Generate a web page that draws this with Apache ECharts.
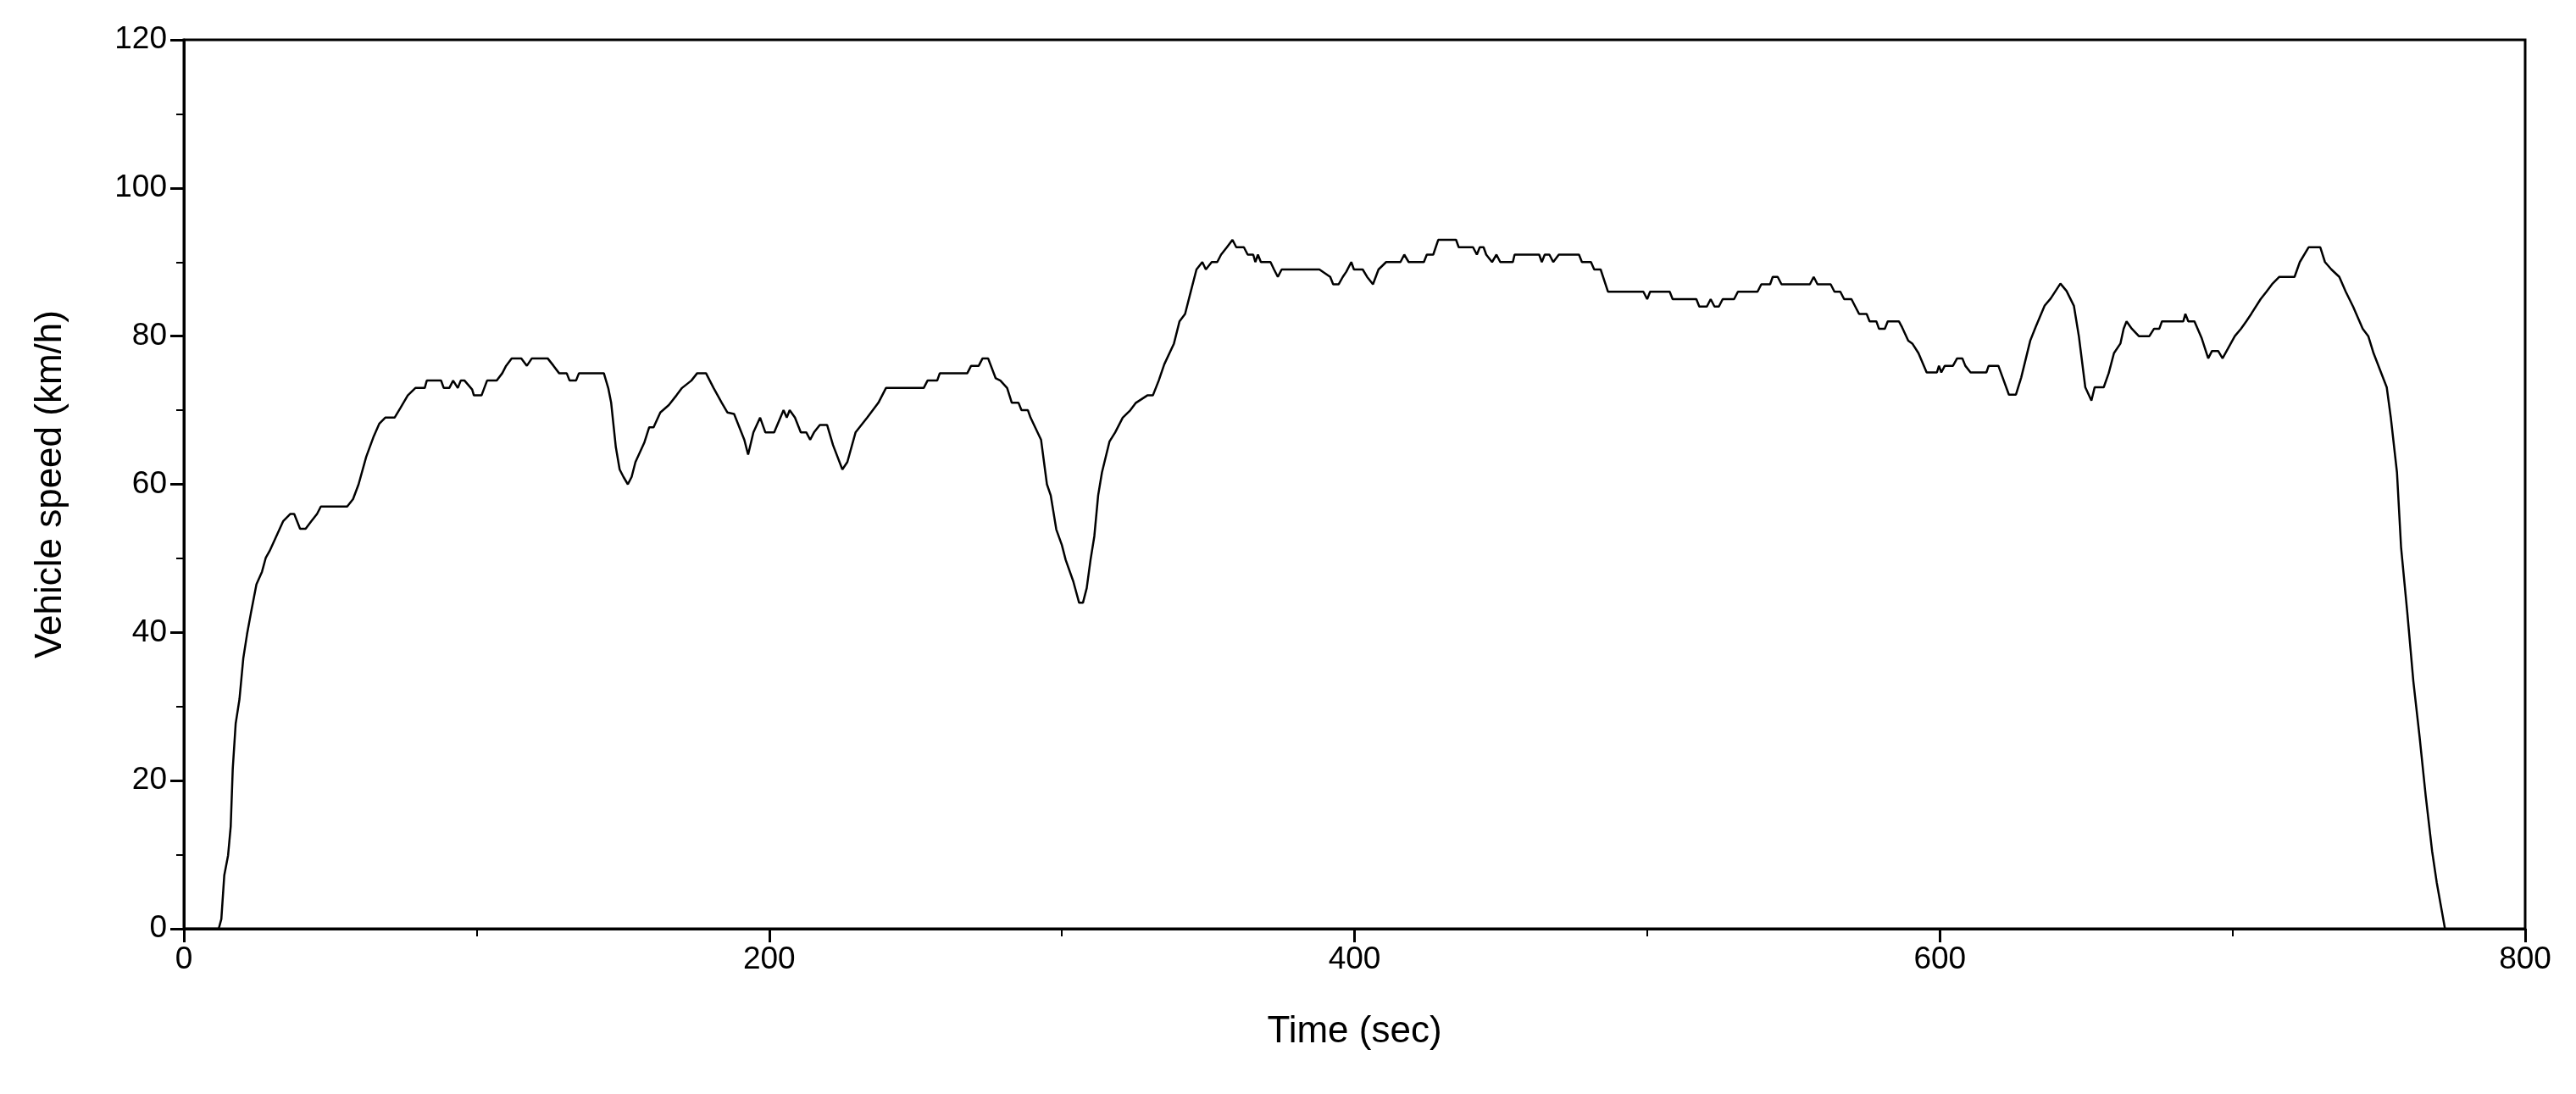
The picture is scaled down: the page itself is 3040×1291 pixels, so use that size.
<!DOCTYPE html>
<html><head><meta charset="utf-8">
<script src="https://cdn.jsdelivr.net/npm/echarts@6/dist/echarts.min.js"></script>
<style>html,body{margin:0;padding:0;background:#fff}#c{width:3040px;height:1291px}</style>
</head><body><div id="c"></div>
<script>
const timeSec = [0,11.9,12.8,13.8,15.1,16.0,16.7,17.7,19.0,20.3,21.6,22.9,24.8,26.7,28.0,29.3,33.9,36.4,37.7,39.7,41.6,43.5,45.5,46.8,55.8,57.8,59.7,62.3,64.9,66.8,68.8,72,74,76.5,79.1,82.3,83,87.9,88.8,90.7,92,93.6,94.6,95.9,98.5,99.1,101.7,103.6,106.9,108.8,110.1,112,115.3,117.2,118.9,124.3,126.3,128.2,130.8,131.8,134,135,143.5,145,146,147.6,148.9,150.2,151.7,153,154.3,157.3,159,160.5,162.8,165.7,168.3,170.2,173.4,175.4,178.4,181,183.8,185.7,188,191.5,192.8,194.6,196.9,198.7,201.7,204.9,206,207,208.8,210.8,212.7,214,215.3,217.3,219.8,221.8,225,226.7,229.5,231.5,233.5,235.4,237.3,239.9,252.8,254.1,257.4,258.3,267.7,269,271.6,272.9,274.8,277.4,279,281.3,282.9,285.2,286.2,288.4,289.3,292.9,294.9,296.2,298.1,300,301.3,303.9,305.9,307.2,308.5,309.8,311.1,312.4,313.7,316.3,318.2,320.8,323.4,325.3,329.2,331.1,333.1,335,338.3,340.2,342.1,344.1,346,348,349.2,351.2,353.1,354.4,356.4,358.3,359.6,362.2,363.5,365.4,366.1,367,368,371.3,372.5,373.8,375.1,388,391.7,392.7,394.6,396,397.2,398.9,399.8,402.8,404.3,406.3,408.2,410.8,415.7,417,418.5,423.7,424.7,426.9,428.6,434.7,435.6,440.5,441.8,442.8,444.1,445,447,448.5,449.8,454.1,454.7,463.1,464,465,466.6,467.9,469.8,476.7,477.7,480.8,481.9,484.1,486.6,498.7,500,501,507.7,508.7,516.8,517.8,520.4,521.7,523,524.5,525.8,529.7,531,537.7,539,542,542.9,544.6,545.9,555.6,556.9,558.2,562.7,564,566,567.3,569.8,571.1,572.4,575,576,578.3,579.2,581.2,582.2,586,587.1,589.2,590.6,592.7,595.5,599,599.7,600.5,601.7,604.5,605.9,607.7,608.7,610.5,615.9,616.7,620,623.6,626,627.8,630.9,632.7,635.8,637.9,641.2,643.3,645.8,647.5,649.7,651.8,652.9,656,657.7,659.5,661.7,662.8,663.8,665.6,668,671.6,673.2,675,675.9,683.2,683.9,684.9,687,689.5,691.7,693,695.1,696.6,698,700.8,702.9,704.7,706.4,709.6,711.6,713.5,716,721.2,723,726,730,731.6,733.8,736.5,738.7,741.2,744.5,746.4,748.2,752.7,754.1,756.2,757.6,759.7,761.8,763.9,766,768.2,769.8,772.6];
const speedKmh = [0,0,1.3,7.2,9.9,13.8,21.6,27.7,31,36.5,39.8,42.6,46.5,48.2,50.1,51,55,56,56,54,54,55,56,57,57,58,60,63.7,66.5,68.2,69,69,70.3,72,73,73,74,74,73,73,74,73,74,74,72.8,72,72,74,74,75,76,77,77,76,77,77,76,75,75,74,74,75,75,73,71,65,62,61,60,61,63,65.6,67.7,67.7,69.7,70.7,72,73,74,75,75,73,71,69.7,69.5,66,64,67,69,67,67,70,69,70,69,67,67,66,67,68,68,65.3,62,63,67,68,69,70,71,73,73,74,74,75,75,76,76,77,77,74.3,74,73,71,71,70,70,69,66,60,58.5,53.9,51.8,49.8,46.9,44,44,46,49.8,53,58.5,61.6,65.8,67,69,70,71,72,72,74,76.2,79,82,83,86.1,89,90,89,90,90,91,92,93,92,92,91,91,90,91,90,90,89,88,89,89,88,87,87,88,88.7,90,89,89,88,87,89,90,90,91,90,90,91,91,93,93,92,92,91,92,92,91,90,91,90,90,91,91,90,91,91,90,91,91,90,90,89,89,86,86,85,86,86,85,85,84,84,85,84,84,85,85,86,86,87,87,88,88,87,87,88,87,87,86,86,85,85,84,83,83,82,82,81,81,82,82,81.2,79.4,79,77.7,75.1,75.1,76,75.1,76,76,77,77,76,75.1,75.1,76,76,72.1,72.1,74.4,79.4,81.2,84.1,85.1,87.1,86.1,84.1,80,73.1,71.3,73.1,73.1,75,77.7,79,81,82,81,80,80,81,81,82,82,83,82,82,79.7,77,78,78,77,78,80,81,82,83,85,86,87,88,88,90,92,92,90,89,88,86,84,81,80,77.7,73.1,69,61.6,51.5,42.8,33.4,26,18,10.5,6.2,0];
const xTicks = [0,200,400,600,800];
const yTicks = [0,20,40,60,80,100,120];

const pts = timeSec.map((t,i)=>[t,speedKmh[i]]);
const font = 'Liberation Sans, Arial, sans-serif';
const chart = echarts.init(document.getElementById('c'));
chart.setOption({
  animation:false,
  backgroundColor:'#fff',
  grid:{left:217,right:60,top:47,bottom:195,show:true,borderColor:'#000',borderWidth:3,backgroundColor:'transparent'},
  xAxis:{type:'value',min:xTicks[0],max:xTicks[xTicks.length-1],interval:200,
    name:'Time (sec)',nameLocation:'middle',nameGap:100,
    nameTextStyle:{fontFamily:font,fontSize:44,color:'#000'},
    axisLine:{show:true,lineStyle:{color:'#000',width:3}},
    axisTick:{show:true,length:16,lineStyle:{color:'#000',width:3}},
    minorTick:{show:true,splitNumber:2,length:9,lineStyle:{color:'#000',width:2}},
    axisLabel:{fontFamily:font,fontSize:37,color:'#000',margin:18},
    splitLine:{show:false}},
  yAxis:{type:'value',min:yTicks[0],max:yTicks[yTicks.length-1],interval:20,
    name:'Vehicle speed (km/h)',nameLocation:'middle',nameGap:135,
    nameTextStyle:{fontFamily:font,fontSize:44,color:'#000'},
    axisLine:{show:true,lineStyle:{color:'#000',width:3}},
    axisTick:{show:true,length:16,lineStyle:{color:'#000',width:3}},
    minorTick:{show:true,splitNumber:2,length:9,lineStyle:{color:'#000',width:2}},
    axisLabel:{fontFamily:font,fontSize:37,color:'#000',margin:20},
    splitLine:{show:false}},
  series:[{type:'line',data:pts,showSymbol:false,symbol:'none',
    lineStyle:{color:'#000',width:2.5},clip:true}]
});
</script></body></html>
